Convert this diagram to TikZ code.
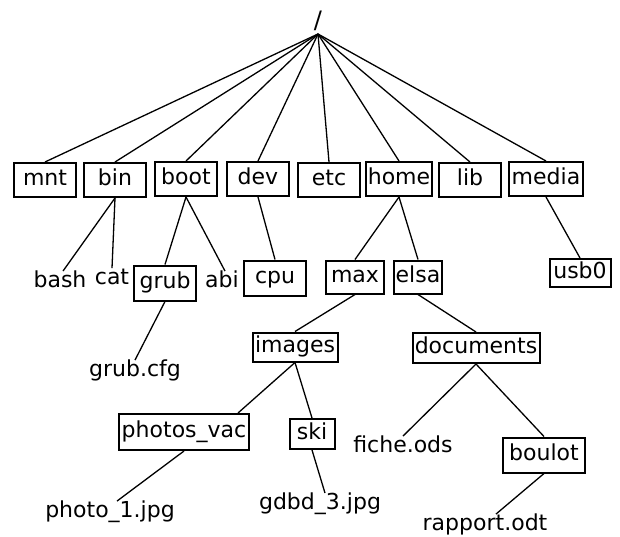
\documentclass[tikz,border=0pt]{standalone}
\usepackage{fontspec}
\setmainfont{DejaVu Sans}
\begin{document}
\begin{tikzpicture}[x=1pt,y=-1pt,
  every node/.style={font=\fontsize{22}{26}\selectfont, text height=15.5pt, text depth=4pt, inner sep=1pt},
  dir/.style={draw, line width=2pt, inner sep=1.5pt},
  file/.style={inner sep=1pt},
  link/.style={line width=1.3pt}]
\useasboundingbox (0,0) rectangle (620,536);
\node[anchor=south, inner sep=0pt, text height=18pt, text depth=5pt, font=\fontsize{24}{28}\selectfont] (root) at (318,34) {/};
% level 1
\node[dir, minimum width=62pt, minimum height=34pt] (mnt) at (45,180) {mnt};
\node[dir, minimum width=62pt, minimum height=34pt] (bin) at (115,180) {bin};
\node[dir, minimum width=62pt, minimum height=34pt] (boot) at (186,179) {boot};
\node[dir, minimum width=62pt, minimum height=34pt] (dev) at (258,179) {dev};
\node[dir, minimum width=62pt, minimum height=34pt] (etc) at (329,180) {etc};
\node[dir, minimum width=65pt, minimum height=34pt] (home) at (399,179) {home};
\node[dir, minimum width=62pt, minimum height=34pt] (lib) at (470,180) {lib};
\node[dir, minimum width=74pt, minimum height=34pt] (media) at (546,179) {media};
% level 2
\node[file] (bash) at (60,282) {bash};
\node[file] (cat) at (112,279) {cat};
\node[dir, minimum width=62pt, minimum height=35pt] (grub) at (165,283) {grub};
\node[file] (abi) at (222,282) {abi};
\node[dir, minimum width=62pt, minimum height=35pt] (cpu) at (275,278) {cpu};
\node[dir, minimum width=58pt, minimum height=33pt] (max) at (355,277) {max};
\node[dir, minimum width=47pt, minimum height=33pt] (elsa) at (418,277) {elsa};
\node[dir, minimum width=61pt, minimum height=28pt] (usb) at (580,273) {usb0};
% level 3
\node[file] (grubcfg) at (135,371) {grub.cfg};
\node[dir, minimum width=85pt, minimum height=29pt] (images) at (295,347) {images};
\node[dir, minimum width=127pt, minimum height=30pt] (documents) at (476,348) {documents};
% level 4
\node[dir, minimum width=130pt, minimum height=36pt] (photos) at (184,432) {photos\_vac};
\node[dir, minimum width=45pt, minimum height=30pt] (ski) at (312,434) {ski};
\node[file] (fiche) at (403,447) {fiche.ods};
\node[dir, minimum width=82pt, minimum height=35pt] (boulot) at (544,455) {boulot};
% level 5
\node[file] (photo1) at (110,512) {photo\_1.jpg};
\node[file] (gdbd) at (320,504) {gdbd\_3.jpg};
\node[file] (rapport) at (485,525) {rapport.odt};
% connectors
\foreach \n in {mnt,bin,boot,dev,etc,home,lib,media}
  \draw[link] (root.south) -- (\n.north);
\draw[link] (bin.south) -- ([xshift=3pt]bash.north);
\draw[link] (bin.south) -- (cat.north);
\draw[link] (boot.south) -- (grub.north);
\draw[link] (boot.south) -- ([xshift=3pt]abi.north);
\draw[link] (dev.south) -- (cpu.north);
\draw[link] (home.south) -- (max.north);
\draw[link] (home.south) -- (elsa.north);
\draw[link] (media.south) -- (usb.north);
\draw[link] (grub.south) -- (grubcfg.north);
\draw[link] (max.south) -- (images.north);
\draw[link] (elsa.south) -- (documents.north);
\draw[link] (images.south) -- ([xshift=-12pt]photos.north east);
\draw[link] (images.south) -- (ski.north);
\draw[link] (documents.south) -- (fiche.north);
\draw[link] (documents.south) -- (boulot.north);
\draw[link] (photos.south) -- ([xshift=7pt]photo1.north);
\draw[link] (ski.south) -- ([xshift=5pt]gdbd.north);
\draw[link] (boulot.south) -- ([xshift=11pt]rapport.north);
\end{tikzpicture}
\end{document}
